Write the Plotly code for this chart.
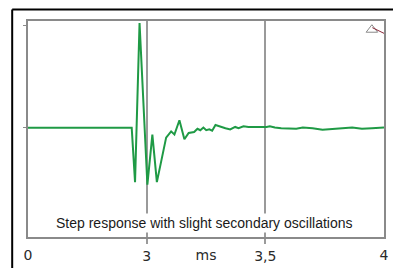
import plotly.graph_objects as go

# time in ms (axis shown as 0 | 3 | 3,5 | 4, equally spaced sections)
t_ms = [2.5, 2.937, 2.951, 2.970, 3.003, 3.024, 3.043, 3.082, 3.103, 3.117, 3.138,
        3.159, 3.177, 3.200, 3.214, 3.226, 3.239, 3.251, 3.264, 3.276, 3.290, 3.311,
        3.332, 3.352, 3.373, 3.387, 3.408, 3.429, 3.456, 3.484, 3.505, 3.519, 3.540,
        3.567, 3.602, 3.630, 3.658, 3.699, 3.741, 3.782, 3.824, 3.866, 3.907, 3.949,
        3.990, 4.0]
amp = [0.0, 0.0, -0.528, 1.02, -0.553, -0.065, -0.528, -0.095, -0.034, -0.065, 0.074,
       -0.111, -0.049, -0.040, -0.009, -0.023, 0.003, -0.023, -0.014, -0.028, 0.028, 0.009,
       -0.003, -0.016, 0.009, -0.003, 0.016, 0.009, 0.009, 0.003, 0.009, 0.016, 0.003,
       -0.003, -0.003, -0.009, 0.003, -0.003, -0.019, -0.009, -0.003, 0.003, -0.009, -0.003,
       0.003, 0.003]

tick_main_vals = [3.0, 3.5]
tick_main_text = ["3", "3,5"]
tick_extra_vals = [2.5, 3.25, 4.0]
tick_extra_text = ["0", "ms", "4"]
caption = "Step response with slight secondary oscillations"

fig = go.Figure()
fig.add_trace(go.Scatter(x=t_ms, y=amp, mode="lines",
                         line=dict(color="#1f9a45", width=2), showlegend=False,
                         hoverinfo="skip"))
# small marker glyph at top right
fig.add_trace(go.Scatter(x=[3.949], y=[0.955], mode="markers",
                         marker=dict(symbol="triangle-up-open", size=10,
                                     color="#8a8a8a", line=dict(width=1)),
                         showlegend=False, hoverinfo="skip"))
fig.add_trace(go.Scatter(x=[3.5], y=[0], xaxis="x2", mode="markers",
                         marker=dict(opacity=0), showlegend=False, hoverinfo="skip"))

font_lbl = dict(family="DejaVu Sans, Verdana, sans-serif", size=14, color="#2a2a2a")

fig.update_layout(
    width=393, height=268,
    margin=dict(l=28, r=4, t=21, b=20),
    paper_bgcolor="white", plot_bgcolor="white",
    xaxis=dict(range=[2.5, 4.0], tickvals=tick_main_vals, ticktext=tick_main_text,
               showgrid=True, gridcolor="#9a9a9a", gridwidth=1.5,
               ticks="outside", ticklen=5, tickcolor="#9a9a9a", tickwidth=1.5,
               showline=True, linecolor="#8a8a8a", linewidth=1.5, mirror=True,
               zeroline=False, tickfont=font_lbl, fixedrange=True),
    xaxis2=dict(range=[2.5, 4.0], overlaying="x", side="bottom", tickvals=tick_extra_vals,
                ticktext=tick_extra_text, showgrid=False, ticks="outside", ticklen=5,
                tickcolor="rgba(0,0,0,0)", showline=False, zeroline=False,
                tickfont=font_lbl, fixedrange=True),
    yaxis=dict(range=[-1.062, 1.04], tickvals=[0, 1], showticklabels=False,
               ticks="outside", ticklen=3, tickcolor="#8a8a8a",
               showgrid=False, zeroline=False, showline=True, linecolor="#8a8a8a",
               linewidth=1.5, mirror=True, fixedrange=True),
    annotations=[dict(text=caption, x=0.4946, y=0.0647, xref="paper", yref="paper",
                      xanchor="center", yanchor="middle",
                      showarrow=False, bgcolor="white",
                      font=dict(family="Liberation Sans, Arial, sans-serif",
                                size=14, color="#1a1a1a"))],
    shapes=[
        dict(type="line", xref="paper", yref="paper", x0=-0.0444, x1=1.2, y0=1.0537, y1=1.0537,
             line=dict(color="black", width=2)),
        dict(type="line", xref="paper", yref="paper", x0=-0.0444, x1=-0.0444, y0=1.0537, y1=-0.3,
             line=dict(color="black", width=2)),
        dict(type="line", x0=3.951, y0=0.975, x1=4.0, y1=0.92,
             line=dict(color="#8b2a3a", width=1)),
    ],
)

fig.write_html(
    "out.html",
    config={"displayModeBar": False},
    post_script="document.body.style.margin='0';document.body.style.overflow='hidden';",
)
